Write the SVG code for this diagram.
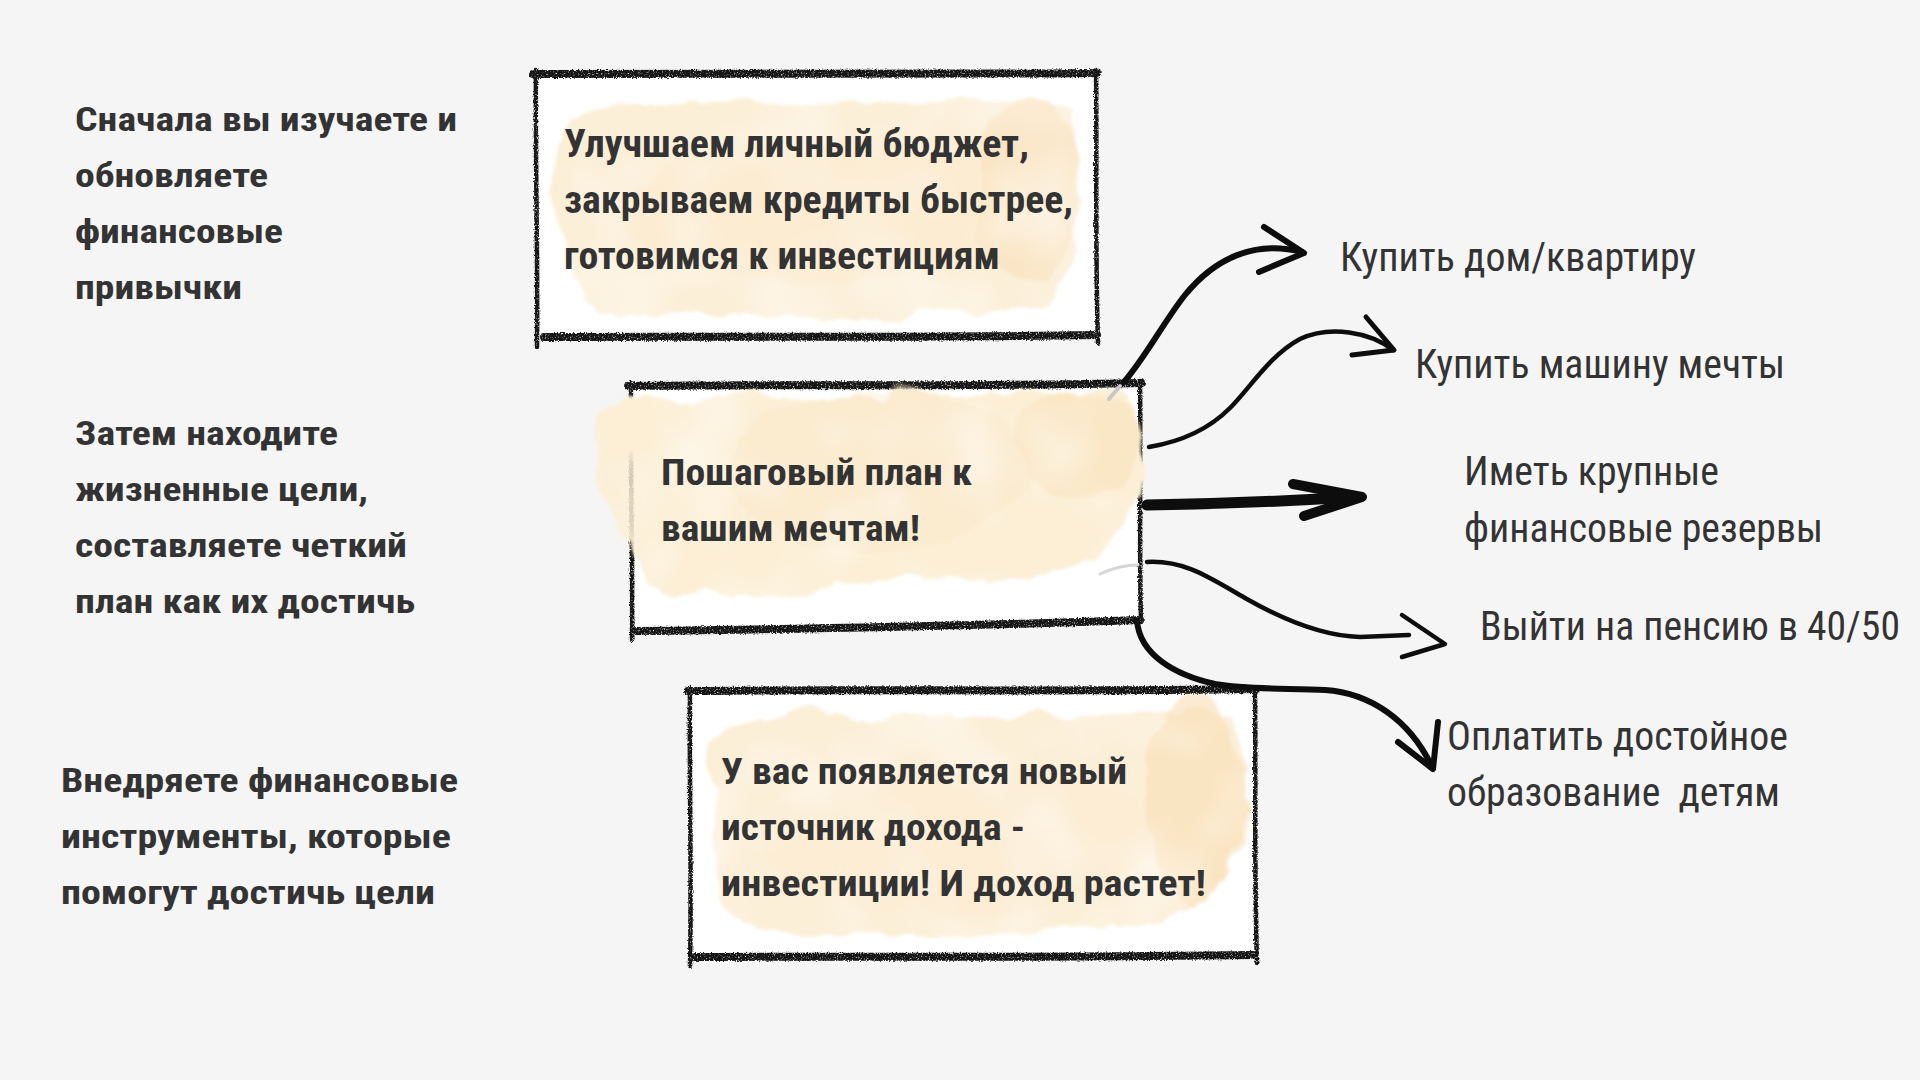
<svg xmlns="http://www.w3.org/2000/svg" width="1920" height="1080" viewBox="0 0 1920 1080">
<defs>
<style>
.b{font-family:"Roboto Condensed",Roboto,"Liberation Sans",sans-serif;font-weight:700;fill:#333333}
.r{font-family:"Roboto Condensed",Roboto,"Liberation Sans",sans-serif;font-weight:400;fill:#333333;font-size:40px}
.l{font-size:34px}
.edge{fill:none;stroke:#141414;stroke-linecap:round}
.h{stroke-width:8}
.v{stroke-width:4.5}
.conn{fill:none;stroke:#0d0d0d;stroke-linecap:round;stroke-linejoin:round}
</style>
<filter id="wc" x="-10%" y="-10%" width="120%" height="120%">
<feTurbulence type="fractalNoise" baseFrequency="0.018" numOctaves="4" seed="3" result="n"/>
<feDisplacementMap in="SourceGraphic" in2="n" scale="30" xChannelSelector="R" yChannelSelector="G" result="d"/>
<feGaussianBlur in="d" stdDeviation="1.6" result="bl"/>
<feTurbulence type="fractalNoise" baseFrequency="0.012" numOctaves="2" seed="9" result="m"/>
<feColorMatrix in="m" type="matrix" values="0 0 0 0 0  0 0 0 0 0  0 0 0 0 0  1.0 0 0 0 0.42" result="ma"/>
<feComposite in="bl" in2="ma" operator="in"/>
</filter>
<filter id="charcoal" x="-3%" y="-5%" width="106%" height="110%">
<feTurbulence type="fractalNoise" baseFrequency="0.75" numOctaves="2" seed="4" result="n"/>
<feDisplacementMap in="SourceGraphic" in2="n" scale="3.5" xChannelSelector="R" yChannelSelector="G" result="d"/>
<feColorMatrix in="n" type="matrix" values="0 0 0 0 0  0 0 0 0 0  0 0 0 0 0  3.0 0 0 0 -0.3" result="a"/>
<feComposite in="d" in2="a" operator="in"/>
</filter>
</defs>

<rect width="1920" height="1080" fill="#f5f5f5"/>

<g id="step1-text" class="b l">
<text x="75" y="131" textLength="382" lengthAdjust="spacingAndGlyphs">Сначала вы изучаете и</text>
<text x="75" y="187" textLength="193" lengthAdjust="spacingAndGlyphs">обновляете</text>
<text x="75" y="243" textLength="208" lengthAdjust="spacingAndGlyphs">финансовые</text>
<text x="75" y="299" textLength="167" lengthAdjust="spacingAndGlyphs">привычки</text>
</g>

<g id="step2-text" class="b l">
<text x="75" y="445" textLength="263" lengthAdjust="spacingAndGlyphs">Затем находите</text>
<text x="75" y="501" textLength="293" lengthAdjust="spacingAndGlyphs">жизненные цели,</text>
<text x="75" y="557" textLength="332" lengthAdjust="spacingAndGlyphs">составляете четкий</text>
<text x="75" y="613" textLength="340" lengthAdjust="spacingAndGlyphs">план как их достичь</text>
</g>

<g id="step3-text" class="b l">
<text x="61" y="792" textLength="397" lengthAdjust="spacingAndGlyphs">Внедряете финансовые</text>
<text x="61" y="848" textLength="390" lengthAdjust="spacingAndGlyphs">инструменты, которые</text>
<text x="61" y="904" textLength="374" lengthAdjust="spacingAndGlyphs">помогут достичь цели</text>
</g>

<g id="box-budget">
<rect x="537" y="74" width="560" height="263" fill="#ffffff"/>
<g filter="url(#wc)">
<path d="M562,112 C640,98 800,102 900,100 C980,94 1050,98 1076,112 L1080,250 C1070,290 1040,308 980,314 C850,320 700,318 605,314 C578,298 568,270 562,240 C552,200 550,150 562,112 Z" fill="#fcefd8"/>
<ellipse cx="1030" cy="190" rx="52" ry="92" fill="#f8e0bb" opacity="0.6"/>
<ellipse cx="820" cy="210" rx="200" ry="70" fill="#fbe8c9" opacity="0.35"/>
</g>
<g filter="url(#charcoal)">
<path class="edge h" d="M533,74 C700,72 900,75 1097,73"/>
<path class="edge h" d="M544,337 C700,336 900,338 1097,335"/>
<path class="edge v" d="M536,70 C535,150 538,250 537,347"/>
<path class="edge v" d="M1096,70 C1097,150 1095,250 1098,343"/>
</g>
<g class="b" font-size="39">
<text x="564" y="157" textLength="465" lengthAdjust="spacingAndGlyphs">Улучшаем личный бюджет,</text>
<text x="564" y="213" textLength="509" lengthAdjust="spacingAndGlyphs">закрываем кредиты быстрее,</text>
<text x="564" y="269" textLength="436" lengthAdjust="spacingAndGlyphs">готовимся к инвестициям</text>
</g>
</g>

<g id="box-plan">
<rect x="631" y="385" width="510" height="242" fill="#ffffff"/>
<g filter="url(#charcoal)">
<path class="edge h" d="M628,386 C800,384 1000,387 1142,383"/>
<path class="edge h" d="M636,631 C800,629 1000,625 1140,620"/>
<path class="edge v" d="M631,383 C630,470 633,560 632,640"/>
<path class="edge v" d="M1140,381 C1141,460 1139,540 1141,622"/>
</g>
<g filter="url(#wc)">
<path d="M600,418 C602,398 650,394 720,396 L1060,394 C1085,382 1112,382 1124,398 C1134,420 1138,445 1146,460 C1148,480 1135,500 1126,520 C1108,552 1078,570 1040,576 L760,596 C705,603 668,603 656,582 C646,560 614,535 604,500 C596,470 596,440 600,418 Z" fill="#fcefd6"/>
<ellipse cx="1078" cy="445" rx="62" ry="55" fill="#f8e0b9" opacity="0.55"/>
<ellipse cx="880" cy="470" rx="150" ry="80" fill="#fae6c4" opacity="0.35"/>
</g>
<path d="M1109,399 L1120,386" stroke="#c8c8c8" stroke-width="4" stroke-linecap="round" fill="none"/>
<path d="M1100,574 C1115,567 1128,565 1138,565" stroke="#d6d6d6" stroke-width="3" stroke-linecap="round" fill="none"/>
<g class="b" font-size="37">
<text x="661" y="485" textLength="311" lengthAdjust="spacingAndGlyphs">Пошаговый план к</text>
<text x="661" y="541" textLength="259" lengthAdjust="spacingAndGlyphs">вашим мечтам!</text>
</g>
</g>

<g id="box-income">
<rect x="690" y="691" width="566" height="265" fill="#ffffff"/>
<g filter="url(#wc)">
<path d="M716,742 C722,718 780,716 850,718 L1180,714 C1218,708 1240,716 1244,740 L1246,830 C1238,878 1208,902 1150,916 C1050,934 900,936 782,930 C734,926 716,898 712,860 C708,820 710,772 716,742 Z" fill="#fcefd8"/>
<ellipse cx="1195" cy="800" rx="48" ry="100" fill="#f8deb4" opacity="0.6"/>
<ellipse cx="960" cy="840" rx="200" ry="70" fill="#fbe8c9" opacity="0.3"/>
</g>
<g filter="url(#charcoal)">
<path class="edge h" d="M688,691 C850,689 1050,692 1256,689"/>
<path class="edge h" d="M695,957 C850,956 1050,958 1253,955"/>
<path class="edge v" d="M690,688 C689,780 692,880 690,966"/>
<path class="edge v" d="M1255,690 C1256,780 1254,870 1257,963"/>
</g>
<g class="b" font-size="37">
<text x="721" y="784" textLength="406" lengthAdjust="spacingAndGlyphs">У вас появляется новый</text>
<text x="721" y="840" textLength="304" lengthAdjust="spacingAndGlyphs">источник дохода -</text>
<text x="721" y="896" textLength="485" lengthAdjust="spacingAndGlyphs">инвестиции! И доход растет!</text>
</g>
</g>

<g id="goal-house" class="r">
<text x="1340" y="271" textLength="356" lengthAdjust="spacingAndGlyphs">Купить дом/квартиру</text>
</g>
<g id="goal-car" class="r">
<text x="1415" y="378" textLength="370" lengthAdjust="spacingAndGlyphs">Купить машину мечты</text>
</g>
<g id="goal-reserves" class="r">
<text x="1464" y="485" textLength="255" lengthAdjust="spacingAndGlyphs">Иметь крупные</text>
<text x="1464" y="542" textLength="359" lengthAdjust="spacingAndGlyphs">финансовые резервы</text>
</g>
<g id="goal-retire" class="r">
<text x="1480" y="640" textLength="420" lengthAdjust="spacingAndGlyphs">Выйти на пенсию в 40/50</text>
</g>
<g id="goal-education" class="r">
<text x="1447" y="750" textLength="341" lengthAdjust="spacingAndGlyphs">Оплатить достойное</text>
<text x="1447" y="806" textLength="333" lengthAdjust="spacingAndGlyphs" xml:space="preserve">образование  детям</text>
</g>

<g id="connectors">
<path class="conn" stroke-width="6" d="M1124,382 C1145,358 1165,320 1185,295 C1215,258 1255,240 1302,252"/>
<path class="conn" stroke-width="6" d="M1264,227 L1304,253 L1259,272"/>
<path class="conn" stroke-width="4.5" d="M1149,447 C1185,441 1210,428 1230,408 C1250,388 1270,355 1300,339 C1330,325 1370,332 1393,350"/>
<path class="conn" stroke-width="5" d="M1366,317 L1394,350 L1352,355"/>
<path class="conn" stroke-width="11" d="M1147,505 C1220,504 1290,501 1352,497"/>
<path class="conn" stroke-width="10" d="M1293,484 L1362,497 L1304,516"/>
<path class="conn" stroke-width="4.5" d="M1147,562 C1185,560 1210,578 1245,598 C1280,618 1320,636 1360,637 L1409,635"/>
<path class="conn" stroke-width="4.5" d="M1402,615 L1445,644 L1402,657"/>
<path class="conn" stroke-width="6" d="M1137,621 C1140,655 1175,675 1215,684 C1250,690 1290,688 1325,690 C1370,693 1410,720 1432,767"/>
<path class="conn" stroke-width="6" d="M1398,742 L1433,769 L1438,722"/>
</g>
</svg>
